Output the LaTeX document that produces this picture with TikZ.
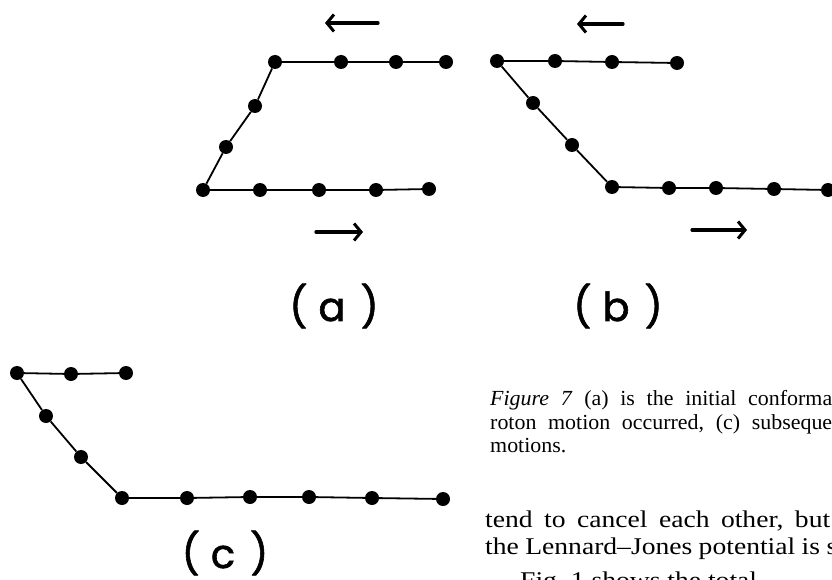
\documentclass[tikz,border=0pt]{standalone}
\usepackage{fontspec}
\setmainfont{Liberation Serif}
\newfontfamily\capfont[FakeStretch=1.02]{Liberation Serif}
\newfontfamily\bodyfont[FakeStretch=1.15]{Liberation Serif}
\newfontfamily\labfont[FakeBold=1.5]{Poppins}
\usetikzlibrary{arrows.meta}
\begin{document}
\begin{tikzpicture}[x=1pt,y=-1pt,
  atom/.style={circle,fill=black,inner sep=0pt,minimum size=14pt},
  bond/.style={line width=1.8pt},
  motion/.style={line width=3.2pt,line cap=round,-{Straight Barb[length=7pt,width=17pt,line width=3pt]}},
  panel/.style={font=\labfont\fontsize{40}{40}\selectfont,inner sep=0pt},
  captext/.style={anchor=base west,inner sep=0pt,font=\capfont\fontsize{21.5}{21.5}\selectfont},
  bodytext/.style={anchor=base west,inner sep=0pt,font=\bodyfont\fontsize{24}{24}\selectfont}]
\useasboundingbox (0,0) rectangle (832,580);
% panel (a)
\foreach \n/\x/\y in {a1/275/62,a2/341/62,a3/396/62,a4/446/62,a5/255/106,a6/226/147,
  a7/203/190,a8/260/190,a9/319/190,a10/376/190,a11/429/189}
  \node[atom] (\n) at (\x,\y) {};
\draw[bond] (a4) -- (a3) -- (a2) -- (a1) -- (a5) -- (a6) -- (a7) -- (a8) -- (a9) -- (a10) -- (a11);
\coordinate (aTs) at (378,23); \coordinate (aTe) at (325,23);
\coordinate (aBs) at (316,232); \coordinate (aBe) at (363,232);
\draw[motion] (aTs) -- (aTe);
\draw[motion] (aBs) -- (aBe);
\node[panel] (la) at (334,306) {(\hspace{11pt}a\hspace{15pt})};
% panel (b)
\foreach \n/\x/\y in {b1/497/61,b2/555/61,b3/612/62,b4/677/63,b5/533/103,b6/572/145,
  b7/612/187,b8/669/188,b9/716/188,b10/774/189,b11/828/190}
  \node[atom] (\n) at (\x,\y) {};
\draw[bond] (b4) -- (b3) -- (b2) -- (b1) -- (b5) -- (b6) -- (b7) -- (b8) -- (b9) -- (b10) -- (b11);
\coordinate (bTs) at (623,24); \coordinate (bTe) at (577,24);
\coordinate (bBs) at (692,230); \coordinate (bBe) at (747,230);
\draw[motion] (bTs) -- (bTe);
\draw[motion] (bBs) -- (bBe);
\node[panel] (lb) at (618,306) {(\hspace{11pt}b\hspace{15pt})};
% panel (c)
\foreach \n/\x/\y in {c1/17/373,c2/71/374,c3/126/373,c4/46/416,c5/81/457,
  c6/122/498,c7/187/498,c8/250/497,c9/309/497,c10/372/498,c11/443/499}
  \node[atom] (\n) at (\x,\y) {};
\draw[bond] (c3) -- (c2) -- (c1) -- (c4) -- (c5) -- (c6) -- (c7) -- (c8) -- (c9) -- (c10) -- (c11);
\node[panel] (lc) at (225,553) {(\hspace{11pt}c\hspace{15pt})};
% caption and text
\node[captext] (cap1) at (490,405) {\hbox to 342pt{\textit{Figure}\hfil\textit{7}\hfil(a)\hfil is\hfil the\hfil initial\hfil conforma}};
\node[captext] (cap2) at (490,429) {\hbox to 342pt{roton\hfil motion\hfil occurred,\hfil (c)\hfil subseque}};
\node[captext] (cap3) at (490,452) {motions.};
\node[bodytext] (txt1) at (485,527) {\hbox to 345pt{tend\hfil to\hfil cancel\hfil each\hfil other,\hfil but}};
\node[bodytext] (txt2) at (485,554) {\hbox to 352pt{the\hfil Lennard–Jones\hfil potential\hfil is\hfil s}};
\node[bodytext] (txt3) at (520,588) {Fig.\ 1 shows the total};
\end{tikzpicture}
\end{document}
